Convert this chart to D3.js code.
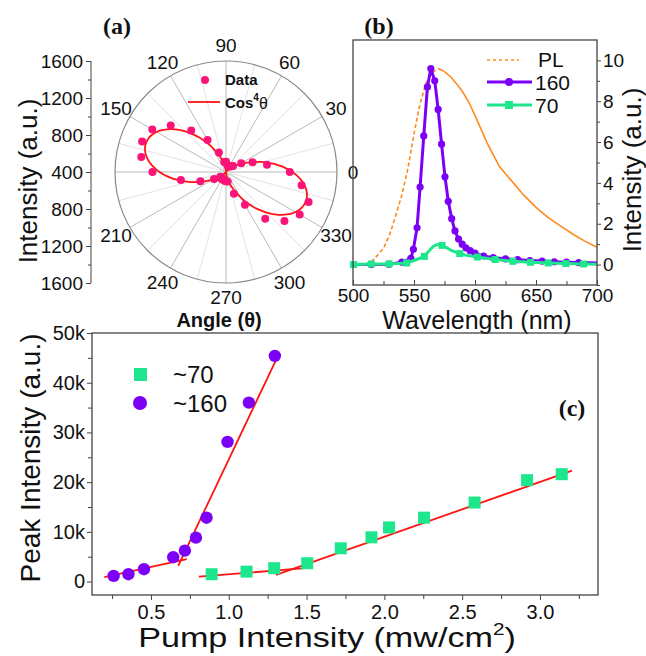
<!DOCTYPE html>
<html>
<head>
<meta charset="utf-8">
<script src="https://cdn.jsdelivr.net/npm/d3@7/dist/d3.min.js"></script>
<style>
    body { margin: 0; background: #fff; }
    svg text { font-family: "Liberation Sans", Arial, sans-serif; fill: #111; }
    .panel-lbl { font-family: "Liberation Serif", "Times New Roman", serif; font-weight: bold; }
</style>
</head>
<body>
<svg id="chart" width="646" height="656"></svg>
<script>
// ---- (a) polar data ----
var polarAngles = [0, 10, 20, 30, 40, 50, 60, 70, 80, 90, 100, 110, 120, 130, 140, 150, 160, 170,
    180, 190, 200, 210, 220, 230, 240, 250, 260, 270, 280, 290, 300, 310, 320, 330, 340, 350];
var polarValues = [1090, 850, 705, 590, 500, 480, 470, 470, 480, 510, 510, 625, 800, 985, 1180, 1320, 1365, 1330,
    1195, 895, 695, 550, 480, 490, 480, 490, 495, 500, 505, 650, 810, 1060, 1225, 1320, 1350, 1230];
var fitBase = 400, fitAmp = 920, fitPhase = 160;   // Cos^4 fit
var radialTickPos = [1200, 800, 400, 0, -400, -800, -1200];
var radialTickLabels = ["1600", "1200", "800", "400", "800", "1200", "1600"];
var angleLabels = [0, 30, 60, 90, 120, 150, 210, 240, 270, 300, 330];

// ---- (b) spectra ----
var plData = [[510, 0], [515, 0.15], [520, 0.45], [525, 0.8], [530, 1.45], [535, 2.4], [540, 3.4], [545, 4.7],
    [550, 6.4], [555, 7.9], [560, 8.9], [565, 9.4], [570, 9.6], [575, 9.45], [580, 9.2], [585, 8.85], [590, 8.45],
    [595, 7.95], [600, 7.3], [610, 5.95], [620, 4.8], [630, 4.1], [640, 3.4], [650, 2.8], [660, 2.3],
    [670, 1.9], [680, 1.5], [690, 1.15], [700, 0.85]];
var line160 = [[500, 0], [515, 0], [529.5, 0.02], [540, 0.12], [547.4, 0.3], [549.5, 0.75], [552.5, 1.8], [555, 3.8],
    [558, 6.3], [561, 8.7], [563.8, 9.6], [567, 9.0], [569.8, 7.6], [572.6, 5.9], [575.4, 4.3], [578.1, 3.1],
    [580.9, 2.25], [583.6, 1.65], [586.5, 1.25], [589.5, 1.0], [592.5, 0.82], [596, 0.68], [600, 0.56],
    [607, 0.42], [615, 0.34], [625, 0.28], [635, 0.24], [645, 0.2], [655, 0.17], [665, 0.14], [675, 0.12],
    [685, 0.1], [700, 0.08]];
var line70 = [[500, 0], [500.5, 0], [515, 0.03], [529.5, 0.03], [544, 0.08], [550, 0.2], [558.5, 0.4], [562, 0.65],
    [566, 0.9], [569, 0.98], [573, 0.94], [577, 0.82], [581, 0.68], [587.5, 0.54], [593, 0.45], [602, 0.37],
    [616.5, 0.25], [631, 0.16], [645.5, 0.11], [660, 0.08], [674.5, 0.05], [689, 0.03], [700, 0.02]];
var marks70 = [500.5, 515, 529.5, 544, 558.5, 573, 587.5, 602, 616.5, 631, 645.5, 660, 674.5, 689];

// ---- (c) threshold ----
var pump160 = [0.26, 0.355, 0.455, 0.643, 0.718, 0.789, 0.857, 0.992, 1.129, 1.296];
var peak160 = [1140, 1480, 2490, 4900, 6230, 8840, 12850, 28100, 36000, 45400];
var pump70 = [0.89, 1.114, 1.292, 1.504, 1.72, 1.917, 2.03, 2.255, 2.58, 2.917, 3.14];
var peak70 = [1480, 2000, 2690, 3690, 6700, 8900, 10900, 12860, 15900, 20400, 21600];
var fits = [
    [[0.2, 880], [0.73, 4500]],
    [[0.675, 3150], [1.324, 45900]],
    [[0.808, 1000], [1.489, 2690]],
    [[1.303, 1350], [3.206, 22300]]
];
var cTicksY = [0, 10000, 20000, 30000, 40000, 50000];
var cTicksX = [0.5, 1.0, 1.5, 2.0, 2.5, 3.0];

var PINK = "#fa1478", RED = "#ff1414", ORANGE = "#ff8a1e", PURPLE = "#7c00f5", GREEN = "#1ee68c", AX = "#444";

var svg = d3.select("#chart");
svg.append("rect").attr("width", 646).attr("height", 656).attr("fill", "#fff");

function styleAxis(g, fs) {
    g.selectAll("path.domain").remove();
    g.selectAll(".tick line").attr("stroke", AX).attr("stroke-width", 1);
    g.selectAll(".tick text").attr("font-size", fs).attr("fill", "#111")
        .attr("font-family", "Liberation Sans, Arial, sans-serif");
}

drawPolar();
drawSpectra();
drawThreshold();

function drawPolar() {
    var cx = 226, cy = 172, R = 111;
    var rScale = d3.scaleLinear().domain([400, 1600]).range([0, R]);
    var g = svg.append("g").attr("transform", "translate(" + cx + "," + cy + ")");
    var rad = Math.PI / 180;

    g.selectAll("line.spoke")
        .data(d3.range(0, 360, 15))
        .enter().append("line")
        .attr("x2", function (d) { return R * Math.cos(d * rad); })
        .attr("y2", function (d) { return -R * Math.sin(d * rad); })
        .attr("stroke", function (d) { return d % 30 === 0 ? "#a8a8a8" : "#dadada"; })
        .attr("stroke-width", 0.8);

    g.append("circle").attr("r", R).attr("fill", "none").attr("stroke", "#8a8a8a").attr("stroke-width", 1.2);

    g.selectAll("text.ang")
        .data(angleLabels)
        .enter().append("text")
        .attr("x", function (d) { return 127 * Math.cos(d * rad); })
        .attr("y", function (d) { return -(d === 270 ? 125 : 127) * Math.sin(d * rad); })
        .attr("dy", "0.36em")
        .attr("text-anchor", "middle")
        .attr("font-size", 19)
        .text(function (d) { return d; });

    // cos^4 fit curve
    var fitPts = d3.range(0, 361, 2).map(function (t) {
        return {t: t, v: fitBase + fitAmp * Math.pow(Math.cos((t - fitPhase) * rad), 4)};
    });
    var radial = d3.lineRadial()
        .angle(function (d) { return Math.PI / 2 - d.t * rad; })
        .radius(function (d) { return rScale(d.v); })
        .curve(d3.curveCardinalClosed);
    g.append("path").datum(fitPts).attr("d", radial)
        .attr("fill", "none").attr("stroke", RED).attr("stroke-width", 1.8);

    g.selectAll("circle.pt")
        .data(polarAngles)
        .enter().append("circle")
        .attr("cx", function (d, i) { return rScale(polarValues[i]) * Math.cos(d * rad); })
        .attr("cy", function (d, i) { return -rScale(polarValues[i]) * Math.sin(d * rad); })
        .attr("r", 4)
        .attr("fill", PINK);

    // mirrored radial axis on the left
    var y = d3.scaleLinear().domain([-1200, 1200]).range([cy + R, cy - R]);
    var ax = svg.append("g").attr("transform", "translate(91,0)")
        .call(d3.axisLeft(y).tickValues(radialTickPos).tickSize(5).tickPadding(3)
            .tickFormat(function (d, i) { return radialTickLabels[i]; }));
    styleAxis(ax, 19);
    var axm = svg.append("g").attr("transform", "translate(91,0)")
        .call(d3.axisLeft(y).tickValues([1000, 600, 200, -200, -600, -1000]).tickSize(3).tickFormat(""));
    styleAxis(axm, 19);
    svg.append("line").attr("x1", 91).attr("x2", 91).attr("y1", cy - R).attr("y2", cy + R)
        .attr("stroke", AX).attr("stroke-width", 1);

    svg.append("text").attr("transform", "translate(37,181) rotate(-90)")
        .attr("text-anchor", "middle").attr("font-size", 26).text("Intensity (a.u.)");
    svg.append("text").attr("x", 219).attr("y", 327).attr("text-anchor", "middle")
        .attr("font-size", 20).attr("font-weight", "bold").text("Angle (θ)");
    svg.append("text").attr("class", "panel-lbl").attr("x", 117).attr("y", 34)
        .attr("text-anchor", "middle").attr("font-size", 24).text("(a)");

    // legend
    svg.append("circle").attr("cx", 205).attr("cy", 80).attr("r", 4).attr("fill", PINK);
    svg.append("text").attr("x", 225).attr("y", 85).attr("font-size", 15).attr("font-weight", "bold").text("Data");
    svg.append("line").attr("x1", 188).attr("x2", 220).attr("y1", 102).attr("y2", 102)
        .attr("stroke", RED).attr("stroke-width", 1.8);
    var t = svg.append("text").attr("x", 225).attr("y", 108).attr("font-size", 15).attr("font-weight", "bold");
    t.append("tspan").text("Cos");
    t.append("tspan").attr("font-size", 10).attr("dy", -7).text("4");
    t.append("tspan").attr("font-size", 16).attr("font-weight", "normal").attr("dy", 8).text("θ");
}

function drawSpectra() {
    var x0 = 353, x1 = 597, y0 = 40, y1 = 285;
    var x = d3.scaleLinear().domain([500, 700]).range([x0, x1]);
    var y = d3.scaleLinear().domain([-1, 11]).range([y1, y0]);
    var line = d3.line().x(function (d) { return x(d[0]); }).y(function (d) { return y(d[1]); });

    var g = svg.append("g");
    g.append("path").datum(plData.filter(function (d) { return d[0] <= 570; })).attr("d", line)
        .attr("fill", "none").attr("stroke", ORANGE).attr("stroke-width", 1.6).attr("stroke-dasharray", "4,2.5");
    g.append("path").datum(plData.filter(function (d) { return d[0] >= 570; })).attr("d", line)
        .attr("fill", "none").attr("stroke", ORANGE).attr("stroke-width", 1.6);

    g.append("path").datum(line160).attr("d", line)
        .attr("fill", "none").attr("stroke", PURPLE).attr("stroke-width", 3);
    g.selectAll("circle.p160").data(line160.filter(function (d) { return d[0] > 500 && d[0] < 700; }))
        .enter().append("circle")
        .attr("cx", function (d) { return x(d[0]); })
        .attr("cy", function (d) { return y(d[1]); })
        .attr("r", 3.6).attr("fill", PURPLE);

    g.append("path").datum(line70).attr("d", line)
        .attr("fill", "none").attr("stroke", GREEN).attr("stroke-width", 3);
    var lookup70 = d3.scaleLinear().domain(line70.map(function (d) { return d[0]; }))
        .range(line70.map(function (d) { return d[1]; }));
    g.selectAll("rect.p70").data(marks70)
        .enter().append("rect")
        .attr("x", function (d) { return x(d) - 3.5; })
        .attr("y", function (d) { return y(lookup70(d)) - 3.5; })
        .attr("width", 7).attr("height", 7).attr("fill", GREEN);

    svg.append("rect").attr("x", x0).attr("y", y0).attr("width", x1 - x0).attr("height", y1 - y0)
        .attr("fill", "none").attr("stroke", AX).attr("stroke-width", 1.3);

    var ax = svg.append("g").attr("transform", "translate(0," + y1 + ")")
        .call(d3.axisBottom(x).tickValues([500, 550, 600, 650, 700]).tickSize(-5).tickPadding(3));
    styleAxis(ax, 19);
    var axm = svg.append("g").attr("transform", "translate(0," + y1 + ")")
        .call(d3.axisBottom(x).tickValues([525, 575, 625, 675]).tickSize(-4).tickFormat(""));
    styleAxis(axm, 19);
    var ay = svg.append("g").attr("transform", "translate(" + x1 + ",0)")
        .call(d3.axisRight(y).tickValues([0, 2, 4, 6, 8, 10]).tickSize(4).tickPadding(2));
    styleAxis(ay, 19);
    var aym = svg.append("g").attr("transform", "translate(" + x1 + ",0)")
        .call(d3.axisRight(y).tickValues([-1, 1, 3, 5, 7, 9]).tickSize(3).tickFormat(""));
    styleAxis(aym, 19);

    svg.append("text").attr("x", 477).attr("y", 329).attr("text-anchor", "middle")
        .attr("font-size", 25).text("Wavelength (nm)");
    svg.append("text").attr("transform", "translate(641,170) rotate(-90)")
        .attr("text-anchor", "middle").attr("font-size", 26).text("Intensity (a.u.)");
    svg.append("text").attr("class", "panel-lbl").attr("x", 379).attr("y", 34)
        .attr("text-anchor", "middle").attr("font-size", 24).text("(b)");

    // legend
    svg.append("line").attr("x1", 487).attr("x2", 519).attr("y1", 60).attr("y2", 60)
        .attr("stroke", ORANGE).attr("stroke-width", 1.6).attr("stroke-dasharray", "3,3");
    svg.append("text").attr("x", 538).attr("y", 67).attr("font-size", 21).text("PL");
    svg.append("line").attr("x1", 487).attr("x2", 532).attr("y1", 82).attr("y2", 82)
        .attr("stroke", PURPLE).attr("stroke-width", 3);
    svg.append("circle").attr("cx", 509).attr("cy", 82).attr("r", 4).attr("fill", PURPLE);
    svg.append("text").attr("x", 535).attr("y", 90).attr("font-size", 21).text("160");
    svg.append("line").attr("x1", 487).attr("x2", 532).attr("y1", 105).attr("y2", 105)
        .attr("stroke", GREEN).attr("stroke-width", 3);
    svg.append("rect").attr("x", 505).attr("y", 101).attr("width", 8).attr("height", 8).attr("fill", GREEN);
    svg.append("text").attr("x", 535).attr("y", 113).attr("font-size", 21).text("70");
}

function drawThreshold() {
    var x0 = 92, x1 = 598, y0 = 333, y1 = 595;
    var x = d3.scaleLinear().domain([0.121, 3.373]).range([x0, x1]);
    var y = d3.scaleLinear().domain([-2700, 50000]).range([y1, y0]);

    svg.append("rect").attr("x", x0).attr("y", y0).attr("width", x1 - x0).attr("height", y1 - y0)
        .attr("fill", "none").attr("stroke", AX).attr("stroke-width", 1.3);

    var g = svg.append("g");
    g.selectAll("line.fit").data(fits).enter().append("line")
        .attr("x1", function (d) { return x(d[0][0]); })
        .attr("y1", function (d) { return y(d[0][1]); })
        .attr("x2", function (d) { return x(d[1][0]); })
        .attr("y2", function (d) { return y(d[1][1]); })
        .attr("stroke", RED).attr("stroke-width", 1.8);

    g.selectAll("rect.g70").data(pump70).enter().append("rect")
        .attr("x", function (d) { return x(d) - 6; })
        .attr("y", function (d, i) { return y(peak70[i]) - 6; })
        .attr("width", 12).attr("height", 12).attr("fill", GREEN);
    g.selectAll("circle.g160").data(pump160).enter().append("circle")
        .attr("cx", function (d) { return x(d); })
        .attr("cy", function (d, i) { return y(peak160[i]); })
        .attr("r", 6.2).attr("fill", PURPLE);

    var ax = svg.append("g").attr("transform", "translate(0," + y1 + ")")
        .call(d3.axisBottom(x).tickValues(cTicksX).tickSize(5).tickPadding(5)
            .tickFormat(d3.format(".1f")));
    styleAxis(ax, 20);
    var axm = svg.append("g").attr("transform", "translate(0," + y1 + ")")
        .call(d3.axisBottom(x).tickValues([0.25, 0.75, 1.25, 1.75, 2.25, 2.75, 3.25]).tickSize(4).tickFormat(""));
    styleAxis(axm, 20);
    var ay = svg.append("g").attr("transform", "translate(" + x0 + ",0)")
        .call(d3.axisLeft(y).tickValues(cTicksY).tickSize(5).tickPadding(2)
            .tickFormat(function (d) { return d === 0 ? "0" : (d / 1000) + "k"; }));
    styleAxis(ay, 20);
    var aym = svg.append("g").attr("transform", "translate(" + x0 + ",0)")
        .call(d3.axisLeft(y).tickValues([5000, 15000, 25000, 35000, 45000]).tickSize(4).tickFormat(""));
    styleAxis(aym, 20);

    svg.append("text").attr("transform", "translate(40,458) rotate(-90)")
        .attr("text-anchor", "middle").attr("font-size", 28).text("Peak Intensity (a.u.)");
    var t = svg.append("text").attr("transform", "translate(327,647) scale(1.22,1)")
        .attr("text-anchor", "middle").attr("font-size", 28);
    t.append("tspan").text("Pump Intensity (mw/cm");
    t.append("tspan").attr("font-size", 17).attr("dy", -12).text("2");
    t.append("tspan").attr("dy", 12).text(")");
    svg.append("text").attr("class", "panel-lbl").attr("x", 572).attr("y", 416)
        .attr("text-anchor", "middle").attr("font-size", 24).text("(c)");

    // legend
    svg.append("rect").attr("x", 134).attr("y", 368).attr("width", 13).attr("height", 13).attr("fill", GREEN);
    svg.append("text").attr("x", 173).attr("y", 383).attr("font-size", 24).text("~70");
    svg.append("circle").attr("cx", 140).attr("cy", 403).attr("r", 7).attr("fill", PURPLE);
    svg.append("text").attr("x", 173).attr("y", 412).attr("font-size", 24).text("~160");
}
</script>
</body>
</html>
